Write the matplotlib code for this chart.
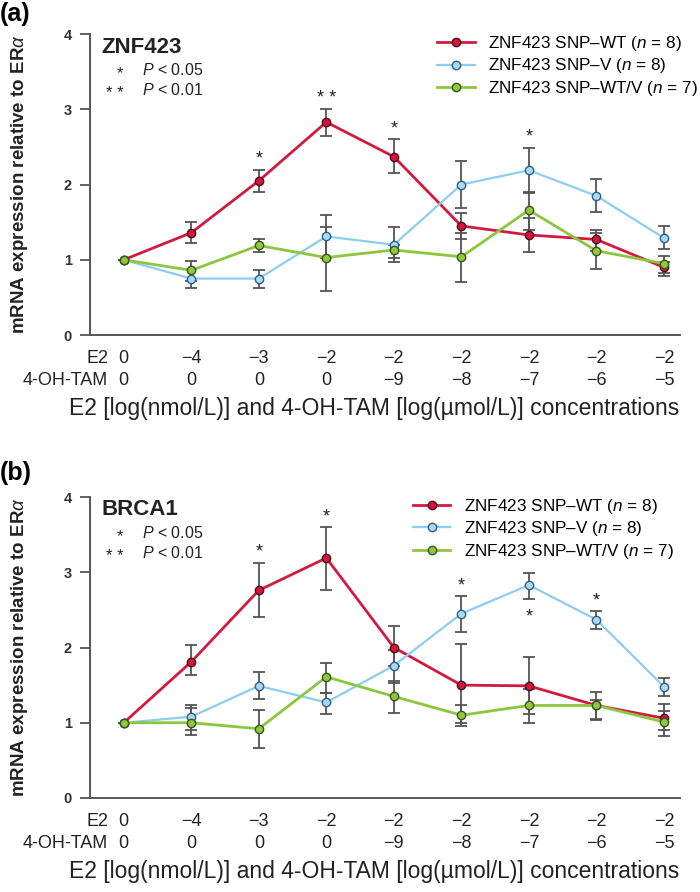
import matplotlib
matplotlib.use("Agg")
import matplotlib.pyplot as plt
import numpy as np

plt.rcParams['font.family'] = ['Liberation Sans', 'DejaVu Sans']
plt.rcParams['mathtext.fontset'] = 'custom'
plt.rcParams['mathtext.rm'] = 'Liberation Sans'
plt.rcParams['mathtext.it'] = 'Liberation Sans:italic'
plt.rcParams['mathtext.bf'] = 'Liberation Sans:bold'

# x-axis categories
e2_labels = ['0', '−4', '−3', '−2', '−2', '−2', '−2', '−2', '−2']
tam_labels = ['0', '0', '0', '0', '−9', '−8', '−7', '−6', '−5']
series_names = ['ZNF423 SNP–WT ($n$ = 8)', 'ZNF423 SNP–V ($n$ = 8)', 'ZNF423 SNP–WT/V ($n$ = 7)']

# panel (a) ZNF423: mean, upper and lower ends of error bars
a_wt = [1.0, 1.36, 2.05, 2.83, 2.37, 1.45, 1.33, 1.27, 0.90]
a_wt_hi = [1.0, 1.50, 2.20, 3.00, 2.60, 1.62, 1.55, 1.40, 0.97]
a_wt_lo = [1.0, 1.22, 1.90, 2.65, 2.16, 1.28, 1.10, 1.12, 0.79]
a_v = [1.0, 0.75, 0.75, 1.31, 1.20, 2.00, 2.19, 1.85, 1.29]
a_v_hi = [1.0, 0.88, 0.87, 1.59, 1.44, 2.31, 2.49, 2.08, 1.45]
a_v_lo = [1.0, 0.62, 0.63, 1.02, 0.97, 1.69, 1.89, 1.63, 1.15]
a_wv = [1.0, 0.86, 1.19, 1.03, 1.13, 1.04, 1.66, 1.12, 0.95]
a_wv_hi = [1.0, 0.98, 1.28, 1.44, 1.20, 1.35, 1.90, 1.35, 1.05]
a_wv_lo = [1.0, 0.72, 1.10, 0.59, 1.03, 0.71, 1.40, 0.88, 0.82]
a_stars = [(2, 2.40, '*'), (3, 3.20, '* *'), (4, 2.80, '*'), (6, 2.69, '*')]

# panel (b) BRCA1
b_wt = [1.0, 1.81, 2.76, 3.19, 2.00, 1.50, 1.49, 1.23, 1.06]
b_wt_hi = [1.0, 2.03, 3.12, 3.60, 2.28, 2.05, 1.87, 1.41, 1.25]
b_wt_lo = [1.0, 1.64, 2.40, 2.77, 1.75, 1.00, 1.12, 1.04, 0.90]
b_v = [1.0, 1.08, 1.49, 1.27, 1.76, 2.45, 2.83, 2.37, 1.48]
b_v_hi = [1.0, 1.24, 1.68, 1.40, 1.97, 2.69, 2.99, 2.49, 1.60]
b_v_lo = [1.0, 0.90, 1.32, 1.12, 1.53, 2.21, 2.65, 2.25, 1.36]
b_wv = [1.0, 1.00, 0.92, 1.61, 1.35, 1.10, 1.23, 1.23, 1.01]
b_wv_hi = [1.0, 1.20, 1.17, 1.79, 1.55, 1.24, 1.45, 1.30, 1.15]
b_wv_lo = [1.0, 0.84, 0.67, 1.40, 1.13, 0.96, 1.00, 1.05, 0.83]
b_stars = [(2, 3.33, '*'), (3, 3.80, '*'), (5, 2.88, '*'), (6, 2.47, '*'), (7, 2.68, '*')]

line_cols = ['#d21a3f', '#8ccdf0', '#8cc63f']
face_cols = ['#d8143c', '#a9daf5', '#8fc740']
edge_cols = ['#4a0f1c', '#2f5f85', '#3a5518']
line_w = [2.0, 1.6, 2.0]
gray = '#555555'
txt = '#222222'

fig = plt.figure(figsize=(7, 8.92), dpi=100)
ax_a = fig.add_axes([0.1286, 0.6244, 0.843, 0.3374])
ax_b = fig.add_axes([0.1286, 0.1054, 0.843, 0.3374])

x = np.arange(len(e2_labels))


def draw_panel(ax, gene, means, his, los, stars, leg_x):
    order = [1, 2, 0]
    for i in order:
        m = np.array(means[i])
        yerr = [m - np.array(los[i]), np.array(his[i]) - m]
        ax.errorbar(x, m, yerr=yerr, fmt='none', ecolor=gray, elinewidth=1.3,
                    capsize=4.5, capthick=1.3, zorder=2)
    handles = [None, None, None]
    for i in order:
        h, = ax.plot(x, means[i], color=line_cols[i], lw=line_w[i], marker='o',
                     ms=6, mfc=face_cols[i], mec=edge_cols[i], mew=1.0, zorder=3 + i)
        handles[i] = h
    # significance stars (glyph sits high, so anchor on baseline and shift down)
    for xi, yv, s in stars:
        ax.annotate(s, xy=(xi, yv), xytext=(0, -6.5), textcoords='offset points',
                    ha='center', va='baseline', fontsize=13, color=txt)

    ax.set_xlim(-0.5, 8.24)
    ax.set_ylim(0, 4)
    ax.set_yticks([0, 1, 2, 3, 4])
    ax.set_yticklabels(['0', '1', '2', '3', '4'], fontweight='bold', fontsize=10.5)
    ax.set_xticks([])
    for s in ['top', 'right']:
        ax.spines[s].set_visible(False)
    for s in ['left', 'bottom']:
        ax.spines[s].set_color(gray)
        ax.spines[s].set_linewidth(1.4)
    ax.tick_params(axis='y', length=7, width=1.3, color=gray, pad=6, labelcolor='#333333')

    for xi in x:
        ax.annotate(e2_labels[xi], xy=(xi, 0), xycoords=('data', 'axes fraction'),
                    xytext=(0, -16.8), textcoords='offset points', ha='center', va='center',
                    fontsize=13, color=txt)
        ax.annotate(tam_labels[xi], xy=(xi, 0), xycoords=('data', 'axes fraction'),
                    xytext=(0, -32.6), textcoords='offset points', ha='center', va='center',
                    fontsize=13, color=txt)
    ax.annotate('E2', xy=(0.031, 0), xycoords='axes fraction', xytext=(0, -16.8),
                textcoords='offset points', ha='right', va='center', fontsize=13, color=txt)
    ax.annotate('4-OH-TAM', xy=(0.031, 0), xycoords='axes fraction', xytext=(0, -32.6),
                textcoords='offset points', ha='right', va='center', fontsize=13, color=txt)

    ax.set_xlabel('E2 [log(nmol/L)] and 4-OH-TAM [log(µmol/L)] concentrations',
                  fontsize=16.5, color=txt)
    ax.xaxis.set_label_coords(0.481, -0.205)
    ax.set_ylabel('mRNA expression relative to ER$\\alpha$', fontsize=13.5,
                  fontweight='bold', color=txt)
    ax.yaxis.set_label_coords(-0.102, 0.5)

    ax.text(0.02, 0.957, gene, transform=ax.transAxes, fontsize=16, fontweight='bold',
            va='center', ha='left', color=txt)
    ax.annotate('*', xy=(0.051, 0.880), xycoords='axes fraction', xytext=(0, -6),
                textcoords='offset points', fontsize=12, ha='center', va='baseline', color=txt)
    ax.text(0.088, 0.880, '$P$ < 0.05', transform=ax.transAxes, fontsize=11.5,
            ha='left', va='center', color=txt)
    ax.annotate('* *', xy=(0.042, 0.814), xycoords='axes fraction', xytext=(0, -6),
                textcoords='offset points', fontsize=12, ha='center', va='baseline', color=txt)
    ax.text(0.088, 0.814, '$P$ < 0.01', transform=ax.transAxes, fontsize=11.5,
            ha='left', va='center', color=txt)

    ax.legend(handles, series_names, loc='upper left', bbox_to_anchor=(leg_x, 1.0),
              frameon=False, fontsize=12.3, handlelength=2.2, handletextpad=0.8,
              labelspacing=0.2, borderpad=0, borderaxespad=0)


draw_panel(ax_a, 'ZNF423', [a_wt, a_v, a_wv], [a_wt_hi, a_v_hi, a_wv_hi],
           [a_wt_lo, a_v_lo, a_wv_lo], a_stars, 0.588)
draw_panel(ax_b, 'BRCA1', [b_wt, b_v, b_wv], [b_wt_hi, b_v_hi, b_wv_hi],
           [b_wt_lo, b_v_lo, b_wv_lo], b_stars, 0.547)

fig.text(0.0, 1 - 14 / 892, '(a)', fontsize=18, fontweight='bold', va='center', ha='left')
fig.text(0.0, 1 - 473 / 892, '(b)', fontsize=18, fontweight='bold', va='center', ha='left')

fig.savefig('out.png', dpi=100)
